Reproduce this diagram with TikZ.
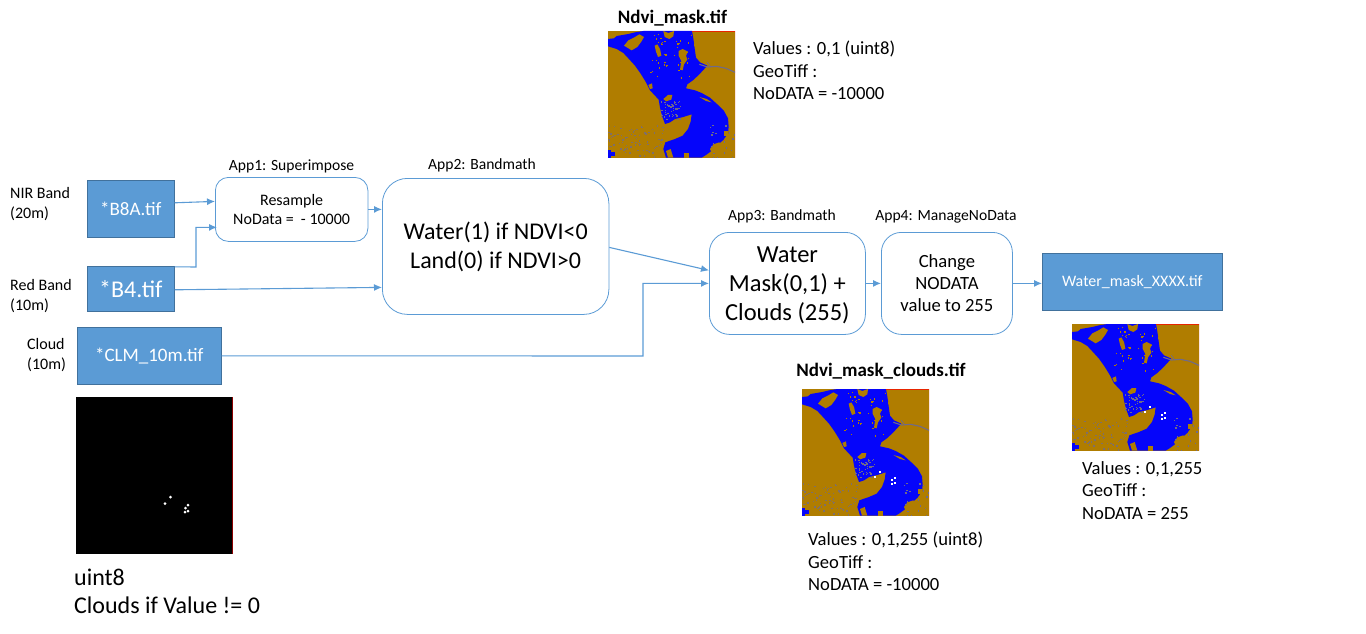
\documentclass[tikz,border=0pt]{standalone}
\usepackage{fontspec}
\setmainfont{Carlito}
\usetikzlibrary{arrows.meta}
\definecolor{boxblue}{HTML}{5B9BD5}
\definecolor{boxedge}{HTML}{41719C}
\definecolor{landc}{HTML}{B07D00}
\definecolor{waterc}{HTML}{0505FA}
\definecolor{riverc}{HTML}{6F6A8A}
\newcommand{\fs}[2]{\fontsize{#1}{#2}\selectfont}
\newcommand{\landwater}{%
  \begin{scope}
  \clip (24,18) rectangle (405,398);
  \fill[landc] (24,18) rectangle (405,398);
  \fill[waterc] (24,42) -- (42,40) -- (50,33) -- (85,27) -- (105,22) -- (130,18) -- (276,18) -- (280,40) -- (284,70) -- (288,98) -- (300,112) -- (322,122) -- (310,135) -- (298,148) -- (280,165) -- (262,178) -- (258,190) -- (285,196) -- (305,204) -- (330,218) -- (352,238) -- (372,258) -- (384,280) -- (386,305) -- (384,325) -- (370,345) -- (352,360) -- (338,375) -- (318,390) -- (305,398) -- (198,398) -- (190,372) -- (196,352) -- (225,342) -- (248,332) -- (264,312) -- (272,290) -- (275,268) -- (250,276) -- (225,282) -- (210,292) -- (195,297) -- (186,272) -- (180,248) -- (176,224) -- (165,212) -- (150,196) -- (138,172) -- (122,146) -- (105,122) -- (85,100) -- (70,84) -- (50,72) -- (24,64) -- cycle;
  % islands in the water
  \fill[landc] (72,62) -- (85,46) -- (105,36) -- (118,28) -- (132,36) -- (124,50) -- (112,66) -- (95,76) -- cycle;
  \fill[landc] (190,222) -- (204,210) -- (217,210) -- (214,224) -- (198,229) -- cycle;
  \fill[landc] (145,180) -- (156,175) -- (158,190) -- (150,192) -- cycle;
  \fill[landc] (190,18) -- (205,24) -- (222,18) -- (220,34) -- (208,42) -- (194,36) -- cycle;
  \fill[landc] (236,78) -- (248,72) -- (264,80) -- (258,92) -- (262,104) -- (252,118) -- (248,136) -- (240,134) -- (244,108) -- (236,92) -- cycle;
  \fill[landc] (164,62) -- (172,58) -- (180,72) -- (184,92) -- (174,96) -- (168,80) -- cycle;
  \fill[landc] (262,180) -- (276,176) -- (296,186) -- (290,192) -- cycle;
  \fill[landc] (298,216) -- (320,222) -- (335,232) -- (318,228) -- cycle;
  \fill[landc] (330,372) -- (340,358) -- (358,352) -- (366,362) -- (352,378) -- (338,390) -- cycle;
  \fill[landc] (198,378) -- (212,372) -- (220,398) -- (204,398) -- cycle;
  \fill[landc] (252,384) rectangle (268,398);
  \fill[landc] (372,318) rectangle (384,334);
  \pgfmathsetseed{11}
  % speckled shallows near the upper right shore
  \foreach \i in {1,...,45}{
    \pgfmathsetmacro{\a}{150+rnd*140}\pgfmathsetmacro{\b}{20+rnd*145}
    \fill[landc] (\a,\b) rectangle +(4,4);}
  % mottled shallows by the peninsula
  \foreach \i in {1,...,45}{
    \pgfmathsetmacro{\a}{182+rnd*60}\pgfmathsetmacro{\b}{228+rnd*55}
    \fill[riverc] (\a,\b) rectangle +(4,4);}
  % mottled land, lower left and lower right
  \foreach \i in {1,...,80}{
    \pgfmathsetmacro{\a}{24+rnd*165}\pgfmathsetmacro{\b}{300+rnd*98}
    \fill[riverc!75!landc] (\a,\b) rectangle +(4,4);}
  \foreach \i in {1,...,22}{
    \pgfmathsetmacro{\a}{330+rnd*72}\pgfmathsetmacro{\b}{300+rnd*98}
    \fill[riverc] (\a,\b) rectangle +(4,4);}
  % river
  \draw[riverc,line width=1.1pt] (298,118) -- (322,126) -- (350,124) -- (378,130) -- (405,142);
  \draw[riverc,line width=.7pt] (322,112) -- (332,126);
  \fill[waterc] (24,376) rectangle (34,398);
  \fill[waterc] (34,382) rectangle (44,392);
  \draw[red!70!landc,line width=.5pt] (276,18) -- (405,18) -- (405,398);
  \end{scope}}
\newcommand{\cloudspots}{%
  \foreach \a/\b in {255/264,240/279,291/288,299/282,291/299,299/297}{
    \fill[white] (\a,\b) rectangle +(6,6);}}
\tikzset{
  srcbox/.style={draw=boxedge,fill=boxblue,text=white,line width=.6pt,inner sep=0pt,align=center,anchor=north west},
  appbox/.style={draw=boxblue,fill=white,text=black,line width=.8pt,rounded corners=#1,inner sep=0pt,align=center,anchor=north west},
  link/.style={draw=boxblue,line width=1.1pt,-{Latex[length=8pt,width=7pt]}},
  lbl/.style={text=black,inner sep=0pt,align=left},
}
\begin{document}
\begin{tikzpicture}[x=1pt,y=-1pt]
\useasboundingbox (0,0) rectangle (1366,634);
% source files
\node[srcbox,minimum width=87pt,minimum height=57pt,font=\fs{19}{22}] (b8a) at (87,180) {*B8A.tif};
\node[srcbox,minimum width=87pt,minimum height=45pt,font=\fs{24}{26}] (b4) at (87,266) {*B4.tif};
\node[srcbox,minimum width=144pt,minimum height=57pt,font=\fs{19}{22}] (clm) at (77,327) {*CLM\_10m.tif};
\node[srcbox,minimum width=180pt,minimum height=57pt,font=\fs{16}{18}] (wm) at (1042,253) {Water\_mask\_XXXX.tif};
% processing steps
\node[appbox=13pt,minimum width=152.5pt,minimum height=64pt,font=\fs{16}{19.5}] (res) at (215,177) {Resample\\NoData =\ \ - 10000};
\node[appbox=25pt,minimum width=226.5pt,minimum height=136pt,font=\fs{24}{28.5}] (nd) at (382,178) {\rule{0pt}{19pt}Water(1) if NDVI<0\\Land(0) if NDVI>0};
\node[appbox=20pt,minimum width=156pt,minimum height=102pt,font=\fs{24.5}{29}] (mk) at (709,232) {\rule{0pt}{20pt}Water\\Mask(0,1) +\\Clouds (255)};
\node[appbox=20pt,minimum width=131pt,minimum height=102pt,font=\fs{18.6}{22}] (nod) at (881,232) {Change\\NODATA\\value to 255};
% app titles
\node[lbl,font=\fs{15.6}{17}] (t1) at (291.5,166) {App1: Superimpose};
\node[lbl,font=\fs{15.6}{17}] (t2) at (482,165) {App2: Bandmath};
\node[lbl,font=\fs{15.6}{17}] (t3) at (782,216) {App3: Bandmath};
\node[lbl,font=\fs{15.6}{17}] (t4) at (946,217) {App4: ManageNoData};
% input labels
\node[lbl,anchor=north west,font=\fs{16}{19.5}] (l1) at (10,187.5) {NIR Band\\(20m)};
\node[lbl,anchor=north west,font=\fs{16}{19.5}] (l2) at (10,279.5) {Red Band\\(10m)};
\node[lbl,anchor=north west,font=\fs{16}{19.5}] (l3) at (27,338.5) {Cloud\\(10m)};
% connectors
\coordinate (bendA) at (196,267);
\coordinate (bendB) at (643,356);
\coordinate (resIn) at ([xshift=2pt,yshift=-18pt]res.west);
\draw[link] ([yshift=6pt]b8a.east) -- ([yshift=8pt]res.west);
\draw[link] ([yshift=22pt]b4.east) -- (bendA) -- (bendA |- resIn) -- (resIn);
\draw[link] (res.east) -- (res.east -| nd.west);
\draw[link] ([yshift=-1pt]b4.east) -- ([yshift=-41pt]nd.west);
\draw[link] ([yshift=-1pt]nd.east) -- ([yshift=13pt]mk.west);
\draw[link] (clm.east) -- (bendB) -- (bendB |- mk.west) -- (mk.west);
\draw[link] (mk.east) -- (mk.east -| nod.west);
\draw[link] (mk.east -| nod.east) -- (mk.east -| wm.west);
% raster thumbnails
\begin{scope}[shift={(600,25)},x=.33333pt,y=-.33333pt] \landwater \end{scope}
\begin{scope}[shift={(794,383)},x=.33333pt,y=-.33333pt] \landwater \cloudspots \end{scope}
\begin{scope}[shift={(1064,318)},x=.33333pt,y=-.33333pt] \landwater \cloudspots \end{scope}
\fill[black] (76,397) rectangle (233,554);
\draw[red!55!black,line width=.6pt] (232.7,397) -- (232.7,554);
\foreach \a/\b in {170.5/497,165/503.5,188/505,185.5/508,185/512,188/511}{\fill[white] (\a,\b) circle (1.5pt);}
% captions
\node[lbl,font=\fs{19}{20}\bfseries] (c1) at (672.5,18) {Ndvi\_mask.tif};
\node[lbl,anchor=north west,font=\fs{18.6}{22.5}] (c2) at (753,41) {Values : 0,1 (uint8)\\GeoTiff :\\NoDATA = -10000};
\node[lbl,font=\fs{19}{20}\bfseries] (c3) at (881,371) {Ndvi\_mask\_clouds.tif};
\node[lbl,anchor=north west,font=\fs{18.6}{22.5}] (c4) at (808,532) {Values : 0,1,255 (uint8)\\GeoTiff :\\NoDATA = -10000};
\node[lbl,anchor=north west,font=\fs{18.6}{22.5}] (c5) at (1082,461) {Values : 0,1,255\\GeoTiff :\\NoDATA = 255};
\node[lbl,anchor=north west,font=\fs{24}{28}] (c6) at (74,569) {uint8\\Clouds if Value != 0};
\end{tikzpicture}
\end{document}
